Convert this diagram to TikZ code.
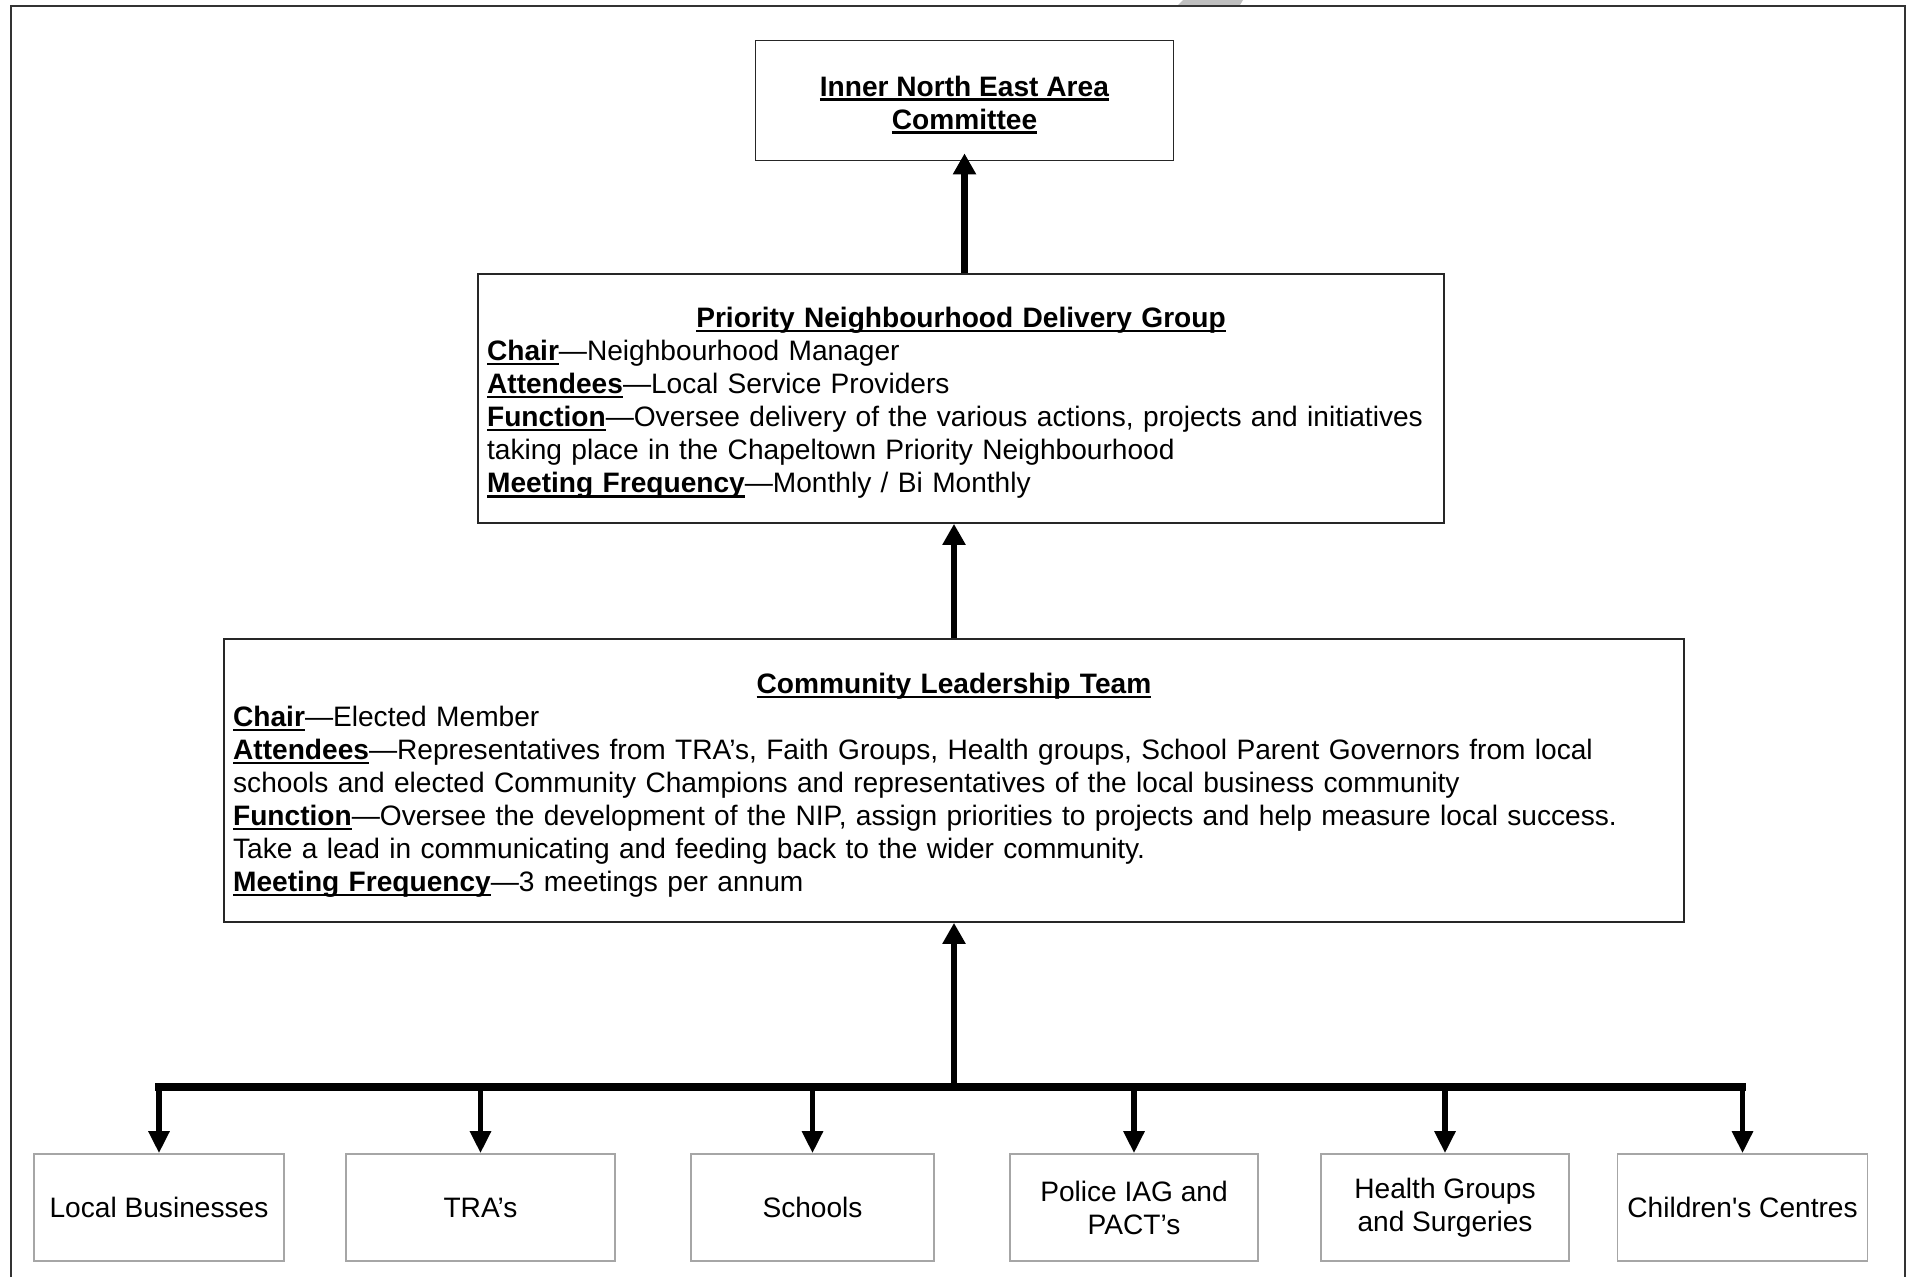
\documentclass[tikz,border=0pt]{standalone}
\usepackage{fontspec}
\setmainfont{Liberation Sans}
\usetikzlibrary{arrows.meta}

\newsavebox\hdbox
\newcommand\hd[1]{\leavevmode\sbox\hdbox{\textbf{#1}}\rlap{\rule[-2.8pt]{\wd\hdbox}{1.5pt}}\usebox\hdbox}
\newcommand\tstrut{\rule{0pt}{16.5pt}}

\tikzset{
  txt/.style={font=\fontsize{16}{18.8}\selectfont},
  bigbox/.style={txt, draw=black!85, line width=1pt, inner xsep=0.18cm, inner ysep=0pt},
  smallbox/.style={txt, draw=black!35, line width=0.9pt, minimum height=2.14cm, align=center},
  uparrow/.style={line width=3.8pt, -{Triangle[width=0.44cm,length=0.42cm]}},
  droparrow/.style={line width=3.2pt, -{Triangle[width=0.4cm,length=0.44cm]}},
  busline/.style={line width=4.4pt, line cap=rect}
}

\begin{document}
\begin{tikzpicture}[x=0.02cm, y=-0.02cm]
  \useasboundingbox (0,0) rectangle (1912,1277);
  % frame
  \draw[black!80, line width=0.8pt] (11,1277) -- (11,6) -- (1905,6) -- (1905,1277);
  \fill[black!25] (1178,5) -- (1183,0) -- (1243,0) -- (1240,5) -- cycle;

  \node[bigbox, minimum width=8.36cm, minimum height=2.4cm, align=center] (inea) at (964.5,100.5)
    {\tstrut\hd{Inner North East Area}\\ \hd{Committee}};

  \node[bigbox, minimum height=4.98cm, text width=18.96cm] (pndg) at (961,398.5)
    {{\centering\tstrut\hd{Priority Neighbourhood Delivery Group}\par}
     \raggedright
     \hd{Chair}—Neighbourhood Manager\\
     \hd{Attendees}—Local Service Providers\\
     \hd{Function}—Oversee delivery of the various actions, projects and initiatives\\
     taking place in the Chapeltown Priority Neighbourhood\\
     \hd{Meeting Frequency}—Monthly / Bi Monthly};

  \node[bigbox, minimum height=5.66cm, text width=28.84cm] (clt) at (954,780.5)
    {{\centering\rule{0pt}{17pt}\hd{Community Leadership Team}\par}
     \raggedright
     \hd{Chair}—Elected Member\\
     \hd{Attendees}—Representatives from TRA’s, Faith Groups, Health groups, School Parent Governors from local\\
     schools and elected Community Champions and representatives of the local business community\\
     \hd{Function}—Oversee the development of the NIP, assign priorities to projects and help measure local success.\\
     Take a lead in communicating and feeding back to the wider community.\\
     \hd{Meeting Frequency}—3 meetings per annum};

  % member groups
  \node[smallbox, minimum width=5.0cm]  (lbus) at (159,1207.5)    {Local Businesses};
  \node[smallbox, minimum width=5.38cm] (tras) at (480.5,1207.5)  {TRA’s};
  \node[smallbox, minimum width=4.86cm] (schl) at (812.5,1207.5)  {Schools};
  \node[smallbox, minimum width=4.96cm] (pol)  at (1134,1207.5)   {Police IAG and\\ PACT’s};
  \node[smallbox, minimum width=4.96cm] (hlth) at (1445,1207.5)   {Health Groups\\ and Surgeries};
  \node[smallbox, minimum width=5.0cm]  (chc)  at (1742.5,1207.5) {Children{\addfontfeature{Ligatures=TeXOff}'}s Centres};

  \coordinate (hub) at (954,1087);

  \draw[uparrow, shorten >=-0.16cm] (pndg.north -| inea.south) -- (inea.south);
  \draw[uparrow] (clt.north) -- (clt.north |- pndg.south);
  \draw[uparrow] (hub) -- (clt.south);
  \draw[busline] (hub -| lbus.north) -- (hub -| chc.north);
  \foreach \g in {lbus,tras,schl,pol,hlth,chc}
    \draw[droparrow] (hub -| \g.north) -- (\g.north);
\end{tikzpicture}
\end{document}
